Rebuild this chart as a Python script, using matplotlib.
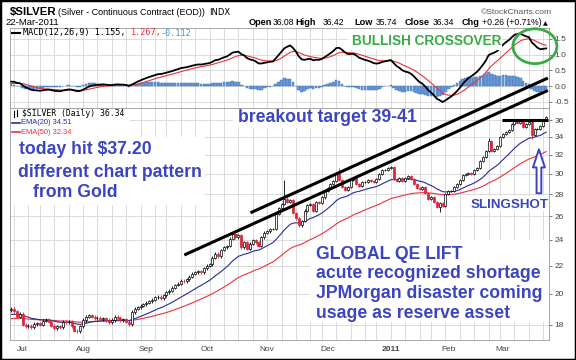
import numpy as np
import pandas as pd
import matplotlib
matplotlib.use("Agg")
import matplotlib.pyplot as plt
from matplotlib.patches import Rectangle, Ellipse, FancyArrowPatch
from matplotlib.lines import Line2D

# ---- data ----
holidays = ["2010-07-05", "2010-09-06", "2010-11-25", "2010-12-24", "2011-01-17", "2011-02-21"]

jun_close = [19.0, 18.85, 18.5, 18.7]
jul_close = [18.0, 17.9, 17.95, 17.85, 18.05, 18.1, 18.0, 18.25, 18.3, 18.2, 17.95,
             17.8, 17.9, 17.85, 18.2, 18.15, 18.2, 17.9, 17.65, 17.6, 17.9]
aug_close = [18.3, 18.5, 18.6, 18.5, 18.4, 18.45, 18.35, 18.4, 18.3, 18.15, 18.3,
             18.5, 18.45, 18.3, 18.35, 18.2, 18.05, 18.8, 19.0, 19.1, 19.2, 19.3]
sep_close = [19.4, 19.5, 19.6, 19.75, 19.8, 19.7, 19.9, 20.1, 20.2, 20.4, 20.6,
             20.7, 20.9, 20.85, 21.0, 21.2, 21.4, 21.5, 21.6, 21.5, 21.8]
oct_close = [22.0, 22.1, 22.6, 22.9, 22.7, 23.2, 23.4, 23.5, 24.1, 24.5, 24.2,
             24.4, 23.4, 23.8, 23.3, 23.7, 24.0, 23.8, 23.5, 24.2, 24.6]
nov_close = [24.7, 24.9, 24.9, 26.2, 26.7, 27.1, 27.6, 27.3, 27.5, 26.3, 25.8,
             25.2, 25.6, 26.5, 27.0, 27.1, 26.5, 27.3, 27.2, 27.7, 28.3]
dec_close = [28.6, 29.0, 29.3, 30.0, 29.4, 28.7, 28.4, 28.7, 29.4, 29.6, 29.0,
             28.8, 29.2, 29.2, 29.4, 29.3, 29.2, 29.5, 30.0, 30.4, 30.4, 30.6]
jan_close = [30.7, 29.5, 29.3, 29.6, 29.3, 29.6, 29.8, 29.5, 29.0, 28.6,
             28.5, 28.7, 28.1, 27.6, 27.7, 27.3, 26.8, 27.2, 26.9, 28.0]
feb_close = [28.3, 28.3, 28.7, 29.0, 29.4, 29.9, 30.0, 30.1, 30.0, 30.4,
             30.6, 31.3, 31.8, 32.4, 33.5, 32.4, 32.6, 33.0, 34.0]
mar_close = [34.3, 34.6, 34.8, 35.5, 35.9, 35.6, 35.9, 35.2, 35.5, 35.8,
             34.2, 34.9, 34.9, 35.3, 36.08, 36.34]
first_open = 18.9

# long wicks that stand out
spike_high_pos = [95, 114, 166]
spike_high_val = [29.4, 30.6, 33.9]
spike_low_pos = [149, 181]
spike_low_val = [26.4, 33.8]

# indicator starting values (from before the visible window)
ema20_seed, ema50_seed = 18.6, 18.35
ema12_seed, ema26_seed, signal_seed = 18.75, 18.62, 0.06

price_ticks = [18, 20, 22, 24, 26, 28, 30, 32, 34, 36]
macd_ticks = [-0.5, 0.0, 0.5, 1.0, 1.5]
month_labels = ["Jul", "Aug", "Sep", "Oct", "Nov", "Dec", "2011", "Feb", "Mar"]

# hand drawn annotations, in (bar index, price)
upper_trend_x, upper_trend_y = [83.2, 186.6], [26.3, 41.5]
lower_trend_x, lower_trend_y = [60.2, 186.6], [22.8, 39.8]
resist_x, resist_y = [170.7, 186.6], [36.0, 36.0]
arrow_x, arrow_from, arrow_to = 183.5, 28.1, 32.6
circle_x, circle_y, circle_w, circle_h = 182.1, 1.27, 15.3, 1.11

BLUE = "#3b45c2"
GREEN = "#3aaa48"
RED = "#d8253a"
NAVY = "#262c9a"
GRID = "#d6d6d6"

plt.rcParams["font.family"] = ["Liberation Sans", "DejaVu Sans"]

closes = np.array(jun_close + jul_close + aug_close + sep_close + oct_close +
                  nov_close + dec_close + jan_close + feb_close + mar_close)
dates = pd.bdate_range("2010-06-25", "2011-03-22")
dates = dates[~dates.isin(pd.to_datetime(holidays))]
n = len(closes)
idx = np.arange(n)

opens = np.r_[first_open, closes[:-1]]
highs = np.maximum(opens, closes) + 0.1
lows = np.minimum(opens, closes) - 0.1
highs[spike_high_pos] = spike_high_val
lows[spike_low_pos] = spike_low_val


def ema(values, span, seed):
    a = 2.0 / (span + 1)
    out, e = [], seed
    for v in values:
        e = e + a * (v - e)
        out.append(e)
    return np.array(out)


ema20 = ema(closes, 20, ema20_seed)
ema50 = ema(closes, 50, ema50_seed)
macd = ema(closes, 12, ema12_seed) - ema(closes, 26, ema26_seed)
signal = ema(macd, 9, signal_seed)
hist = macd - signal

W, H = 576, 360


def fx(x):
    return x / W


def fy(y):
    return 1 - y / H


fig = plt.figure(figsize=(W / 100, H / 100), dpi=100)
ax_m = fig.add_axes([fx(10), fy(108), (549 - 10) / W, (108 - 28) / H])
ax_p = fig.add_axes([fx(10), fy(340), (549 - 10) / W, (340 - 108) / H], sharex=ax_m)

week_pos = [i for i in range(1, n) if dates[i].weekday() < dates[i - 1].weekday()]
month_pos = [i for i in range(1, n) if dates[i].month != dates[i - 1].month]

for ax in (ax_m, ax_p):
    for s in ax.spines.values():
        s.set_color("#9a9a9a")
        s.set_linewidth(0.6)
    for p in week_pos:
        ax.axvline(p, color=GRID, lw=0.6, zorder=0)
    ax.yaxis.tick_right()
    ax.tick_params(axis="y", labelsize=6, colors="#444444", length=2, width=0.5, pad=2)
    ax.set_xlim(-0.4, 187.0)

# MACD panel
ax_m.set_ylim(-0.70, 1.85)
ax_m.set_yticks(macd_ticks)
ax_m.set_yticklabels([f"{t:.1f}" for t in macd_ticks])
for t in macd_ticks:
    ax_m.axhline(t, color=GRID, lw=0.6, zorder=0)
ax_m.bar(idx, hist, width=0.9, color="#6b9bd6", edgecolor="#3d6fb3", lw=0.3, zorder=2)
ax_m.plot(idx, signal, color="#e8333a", lw=0.8, zorder=3)
ax_m.plot(idx, macd, color="black", lw=1.3, zorder=4)
ax_m.tick_params(axis="x", bottom=False, labelbottom=False)
ax_m.add_patch(Ellipse((circle_x, circle_y), circle_w, circle_h, fill=False,
                       edgecolor=GREEN, lw=2.0, clip_on=False, zorder=6))

# price panel
ax_p.set_yscale("log")
ax_p.set_ylim(17.1, 37.5)
ax_p.yaxis.set_major_locator(matplotlib.ticker.FixedLocator(price_ticks))
ax_p.yaxis.set_major_formatter(matplotlib.ticker.FixedFormatter([str(t) for t in price_ticks]))
ax_p.yaxis.set_minor_locator(matplotlib.ticker.NullLocator())
for t in price_ticks:
    ax_p.axhline(t, color=GRID, lw=0.6, zorder=0)

up = closes >= opens
cols = np.where(up, "black", RED)
ax_p.vlines(idx, lows, highs, colors=cols, lw=0.6, zorder=3)
body_lo = np.minimum(opens, closes)
body_h = np.maximum(np.abs(closes - opens), 0.04)
ax_p.bar(idx[up], body_h[up], bottom=body_lo[up], width=0.7,
         facecolor="white", edgecolor="black", lw=0.5, zorder=4)
ax_p.bar(idx[~up], body_h[~up], bottom=body_lo[~up], width=0.7,
         facecolor=RED, edgecolor=RED, lw=0.5, zorder=4)
ax_p.plot(idx, ema50, color="#e8333a", lw=0.8, zorder=2)
ax_p.plot(idx, ema20, color=NAVY, lw=0.8, zorder=2)

for xs, ys in ((upper_trend_x, upper_trend_y), (lower_trend_x, lower_trend_y),
               (resist_x, resist_y)):
    ax_p.plot(xs, ys, color="black", lw=2.2, clip_on=False, zorder=7,
              solid_capstyle="butt")

ax_p.set_xticks(month_pos)
ax_p.set_xticklabels(month_labels)
ax_p.tick_params(axis="x", labelsize=6, colors="#444444", length=0, pad=4)
ax_p.get_xticklabels()[6].set_fontweight("bold")

ax_p.add_patch(FancyArrowPatch((arrow_x, arrow_from), (arrow_x, arrow_to),
                               arrowstyle="simple,head_length=13,head_width=8.6,tail_width=3.4",
                               mutation_scale=1, shrinkA=0, shrinkB=0,
                               facecolor="white", edgecolor=BLUE, lw=1.4, zorder=8))

# white areas behind the notes
for x0, y0, x1, y1 in [(10.5, 108.5, 130, 137), (10.5, 137, 205, 205),
                       (233, 108.5, 420, 128), (348, 29, 502, 50),
                       (468, 196, 548.5, 211), (310, 240, 548.5, 322)]:
    fig.add_artist(Rectangle((fx(x0), fy(y1)), (x1 - x0) / W, (y1 - y0) / H,
                             transform=fig.transFigure, facecolor="white",
                             edgecolor="none", zorder=1))

# header
fig.text(fx(10), fy(15), "$SILVER", fontsize=8.2, fontweight="bold", va="baseline")
fig.text(fx(58), fy(15), "(Silver - Continuous Contract (EOD))", fontsize=6.5, va="baseline")
fig.text(fx(209), fy(15), "INDX", fontsize=6, va="baseline", family="DejaVu Sans")
fig.text(fx(5), fy(25), "22-Mar-2011", fontsize=6.8, va="baseline")
fig.text(fx(552), fy(14), "\u00a9StockCharts.com", fontsize=6.1, va="baseline",
         ha="right", color="#555555")
for x, s, bold in [(249, "Open", True), (273, "36.08", False), (295, "High", True),
                   (323, "36.42", False), (354, "Low", True), (376, "35.74", False),
                   (405, "Close", True), (433, "36.34", False), (462, "Chg", True),
                   (482, "+0.26 (+0.71%)", False)]:
    fig.text(fx(x), fy(25), s, fontsize=6.6 if bold else 6.2, va="baseline",
             fontweight="bold" if bold else "normal")
fig.text(fx(543), fy(25), "\u25b2", fontsize=4.5, va="baseline", family="DejaVu Sans")

# legends
mono = "DejaVu Sans Mono"
fig.add_artist(Line2D([fx(12), fx(20)], [fy(33), fy(33)], color="black", lw=1.5,
                      transform=fig.transFigure))
fig.text(fx(23), fy(33), "MACD(12,26,9) 1.155,", fontsize=6.1, family=mono, va="center")
fig.text(fx(130), fy(33), "1.267,", fontsize=6.1, family=mono, va="center", color="#e8333a")
fig.text(fx(161), fy(33), "-0.112", fontsize=6.1, family=mono, va="center", color="#3a9ad9")

fig.text(fx(22), fy(114), "$SILVER (Daily) 36.34", fontsize=5.9, family=mono, va="center", zorder=4)
fig.add_artist(Line2D([fx(14), fx(14)], [fy(111), fy(117)], color="black", lw=0.8,
                      transform=fig.transFigure, zorder=4))
fig.add_artist(Line2D([fx(17), fx(17)], [fy(110), fy(116)], color="black", lw=0.8,
                      transform=fig.transFigure, zorder=4))
fig.add_artist(Line2D([fx(12), fx(20)], [fy(123), fy(123)], color=NAVY, lw=1.2,
                      transform=fig.transFigure, zorder=4))
fig.text(fx(21), fy(123), "EMA(20) 34.51", fontsize=5.4, va="center", color=NAVY, zorder=4)
fig.add_artist(Line2D([fx(12), fx(20)], [fy(132), fy(132)], color="#e8333a", lw=1.2,
                      transform=fig.transFigure, zorder=4))
fig.text(fx(21), fy(132), "EMA(50) 32.34", fontsize=5.4, va="center", color="#e8333a", zorder=4)

# notes
big = dict(fontsize=12.7, fontweight="bold", color=BLUE, va="baseline", zorder=5)
fig.text(fx(19), fy(154), "today hit $37.20", **big)
fig.text(fx(18), fy(177), "different chart pattern", **big)
fig.text(fx(33), fy(197), "from Gold", **big)
fig.text(fx(238), fy(122), "breakout target 39-41", **big)
fig.text(fx(316), fy(259), "GLOBAL QE LIFT", **big)
fig.text(fx(316), fy(278), "acute recognized shortage", **big)
fig.text(fx(316), fy(298), "JPMorgan disaster coming", **big)
fig.text(fx(316), fy(318), "usage as reserve asset", **big)
fig.text(fx(352), fy(45), "BULLISH CROSSOVER", fontsize=9.8, fontweight="bold",
         color=GREEN, va="baseline", zorder=5)
fig.text(fx(471), fy(208), "SLINGSHOT", fontsize=9.6, fontweight="bold",
         color=BLUE, va="baseline", zorder=5)

# outer frame
fig.add_artist(Rectangle((0, 0), 1, 1, transform=fig.transFigure, fill=False,
                         edgecolor="black", lw=2.5, zorder=10))

fig.savefig("out.png", dpi=100, facecolor="white")
